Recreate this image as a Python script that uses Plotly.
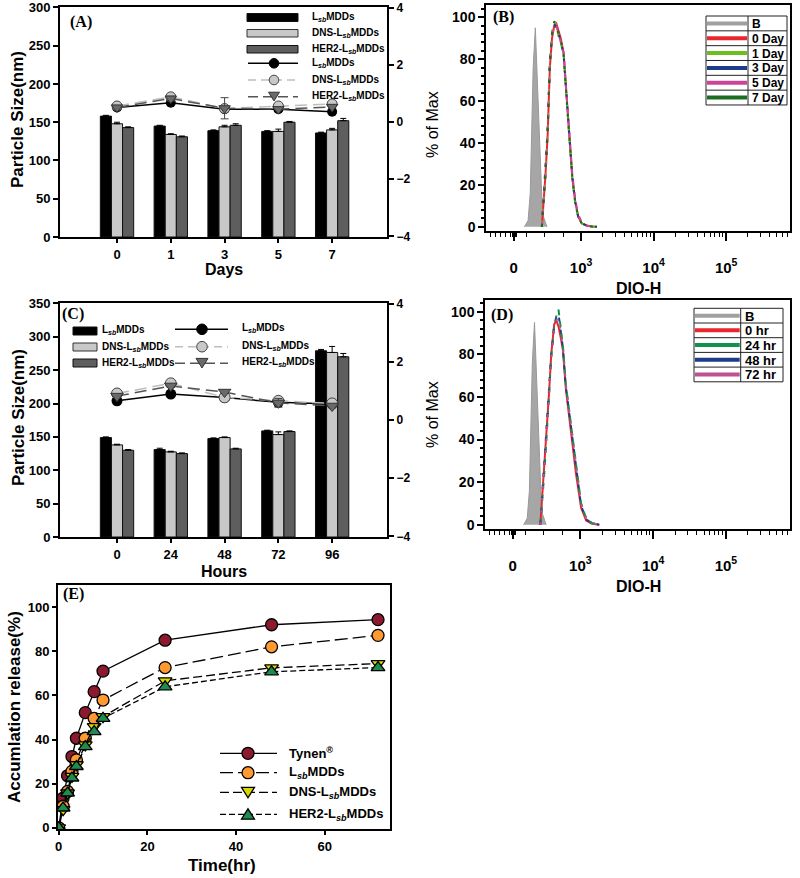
import math
import plotly.graph_objects as go

W, H = 800, 878
FONT = "Liberation Sans, Arial, sans-serif"
SERIF = "Liberation Serif, Times New Roman, serif"
LSB = "L<sub><i>sb</i></sub>MDDs"

# ---------------- data ----------------
# Panel A (stability over days)
days = ["0", "1", "3", "5", "7"]
a_size_lsb = [158, 145, 139, 138, 136]
a_size_dns = [148, 134, 144, 138, 140]
a_size_her2 = [143, 131, 146, 150, 152]
a_err_lsb = [1, 1, 1, 1, 1]
a_err_dns = [2, 1, 2, 3, 2]
a_err_her2 = [1, 1, 2, 1, 3]
a_right_lsb = [0.51, 0.67, 0.45, 0.45, 0.36]
a_right_dns = [0.56, 0.88, 0.47, 0.56, 0.63]
a_right_her2 = [0.51, 0.82, 0.48, 0.45, 0.53]
a_right_err_her2 = [0.0, 0.08, 0.37, 0.0, 0.0]

# Panel B (flow cytometry histograms, days) - x in display (decade) units
b_blank_x = [2.22, 2.24, 2.27, 2.30, 2.32, 2.34, 2.37, 2.39, 2.41, 2.43, 2.46, 2.48, 2.53]
b_blank_y = [0, 1, 3, 16, 45, 76, 95, 76, 53, 32, 13, 5, 0]
b_x = [2.46, 2.48, 2.51, 2.54, 2.57, 2.60, 2.63, 2.66, 2.69, 2.72, 2.76, 2.80, 2.84, 2.88, 2.92, 2.96, 3.01, 3.08, 3.15, 3.22]
b_day0 = [0, 9, 25, 44, 76, 90, 96, 97, 93, 90, 83, 62, 42, 23, 12, 5, 1.6, 0.5, 0.2, 0]
b_day1 = [0, 8, 24, 46, 79, 93, 98, 96, 91, 88, 82, 61, 41, 22, 11, 5, 1.6, 0.5, 0.2, 0]
b_day3 = [0, 12, 27, 47, 78, 92, 97, 95, 92, 89, 82, 62, 43, 24, 12, 5, 1.8, 0.6, 0.2, 0]
b_day5 = [0, 9, 25, 45, 77, 91, 96, 96, 92, 89, 83, 63, 44, 25, 13, 6, 2.0, 0.6, 0.2, 0]
b_day7 = [0, 10, 26, 46, 78, 92, 98, 97, 92, 89, 82, 62, 43, 24, 12, 5, 1.6, 0.5, 0.2, 0]
b_labels = ["B", "0 Day", "1 Day", "3 Day", "5 Day", "7 Day"]

# Panel C (stability over hours)
hours = ["0", "24", "48", "72", "96"]
c_size_lsb = [149, 131, 147.5, 159, 279]
c_size_dns = [138, 127.5, 149, 153.5, 276.5]
c_size_her2 = [130, 125, 132, 158, 270]
c_err_lsb = [1, 2, 1, 1, 2]
c_err_dns = [1, 1, 1, 4, 9]
c_err_her2 = [1, 1, 1, 1, 5]
c_right_lsb = [0.66, 0.89, 0.77, 0.61, 0.55]
c_right_dns = [0.91, 1.26, 0.78, 0.66, 0.57]
c_right_her2 = [0.82, 1.17, 0.96, 0.59, 0.48]
c_right_err_her2 = [0.05, 0.05, 0.05, 0.15, 0.05]

# Panel D (flow cytometry histograms, hours)
d_blank_x = [2.22, 2.24, 2.27, 2.30, 2.32, 2.34, 2.37, 2.39, 2.41, 2.43, 2.46, 2.48, 2.53]
d_blank_y = [0, 1, 3, 16, 45, 76, 95, 76, 53, 32, 13, 5, 0]
d_x = [2.45, 2.47, 2.50, 2.53, 2.57, 2.60, 2.64, 2.67, 2.70, 2.73, 2.76, 2.80, 2.84, 2.89, 2.94, 3.01, 3.08, 3.16, 3.26]
d_hr0 = [0, 10, 25, 40, 62, 80, 94, 96, 93, 88, 82, 64, 52, 38, 24, 8, 2, 0.5, 0]
d_hr24 = [0, 8, 22, 38, 60, 79, 93, 98, 101, 92, 84, 66, 55, 42, 28, 10, 3, 0.8, 0]
d_hr48 = [0, 11, 24, 40, 62, 80, 93, 97, 99, 90, 83, 65, 54, 40, 26, 9, 2.5, 0.6, 0]
d_hr72 = [0, 9, 23, 39, 61, 79, 92, 96, 97, 90, 84, 66, 56, 42, 28, 10, 3, 0.8, 0]
d_labels = ["B", "0 hr", "24 hr", "48 hr", "72 hr"]

# Panel E (release)
e_time = [0, 1, 2, 3, 4, 6, 8, 10, 24, 48, 72]
e_tynen = [0, 13.5, 23.6, 32.3, 40.6, 52.2, 61.7, 71.0, 85.0, 92.0, 94.3]
e_lsb = [0, 9.8, 16.5, 25.6, 30.8, 40.6, 49.6, 57.9, 72.6, 82.0, 87.2]
e_dns = [0, 8.3, 15.8, 23.3, 28.6, 37.6, 45.9, 50.4, 66.6, 72.5, 74.4]
e_her2 = [0, 9.0, 15.8, 22.6, 27.8, 36.8, 43.6, 49.6, 63.9, 70.7, 72.6]

flow_tickvals = [2.07, 3, 4, 5]
flow_ticktext = ["0", "10<sup>3</sup>", "10<sup>4</sup>", "10<sup>5</sup>"]

# ---------------- styles ----------------
C_BLACK = "#000000"
C_LIGHT = "#C8C8C8"
C_DARK = "#5E5E5E"
C_GRAYH = "#A6A6A6"
B_COLORS = ["#E8282E", "#6CBF1E", "#1E3C8C", "#CC4499", "#1B6E20"]
D_COLORS = ["#E8282E", "#10924A", "#1E3C8C", "#C0508F"]
E_COLORS = ["#8B1A2E", "#FF9A33", "#D8D800", "#1E8C50"]


def dx(x0, x1):
    return [x0 / W, x1 / W]


def dy(top, bottom):
    return [1 - bottom / H, 1 - top / H]


fig = go.Figure()


def add_bars(xname, yname, cats, vals, errs, color, group):
    fig.add_trace(go.Bar(
        x=cats, y=vals, xaxis=xname, yaxis=yname, offsetgroup=group,
        marker=dict(color=color, line=dict(color="#111111", width=1)),
        error_y=dict(type="data", array=errs, arrayminus=[0] * len(errs),
                     symmetric=False, color="black", thickness=1, width=3),
        showlegend=False))


# Panel A
add_bars("x", "y", days, a_size_lsb, a_err_lsb, C_BLACK, "1")
add_bars("x", "y", days, a_size_dns, a_err_dns, C_LIGHT, "2")
add_bars("x", "y", days, a_size_her2, a_err_her2, C_DARK, "3")
fig.add_trace(go.Scatter(x=days, y=a_right_lsb, xaxis="x", yaxis="y2", mode="lines+markers",
                         line=dict(color="black", width=1.5),
                         marker=dict(symbol="circle", size=10, color="black"), showlegend=False))
fig.add_trace(go.Scatter(x=days, y=a_right_dns, xaxis="x", yaxis="y2", mode="lines+markers",
                         line=dict(color="#BEBEBE", width=1.5, dash="12px,6px"),
                         marker=dict(symbol="circle", size=10, color=C_LIGHT, line=dict(color="#444", width=1)),
                         showlegend=False))
fig.add_trace(go.Scatter(x=days, y=a_right_her2, xaxis="x", yaxis="y2", mode="lines+markers",
                         line=dict(color="#555555", width=1.5, dash="12px,6px"),
                         error_y=dict(type="data", array=a_right_err_her2, color="#444", thickness=1, width=4),
                         marker=dict(symbol="triangle-down", size=10, color="#6A6A6A", line=dict(color="#333", width=1)),
                         showlegend=False))

# Panel B
fig.add_trace(go.Scatter(x=b_blank_x, y=b_blank_y, xaxis="x2", yaxis="y3", mode="lines",
                         fill="tozeroy", fillcolor=C_GRAYH, line=dict(color="#999999", width=1),
                         showlegend=False))
b_dashes = ["solid", "6px,6px", "4px,8px", "5px,7px", "3px,9px"]
for vals, col, dsh in zip([b_day0, b_day1, b_day3, b_day5, b_day7], B_COLORS, b_dashes):
    fig.add_trace(go.Scatter(x=b_x, y=vals, xaxis="x2", yaxis="y3", mode="lines",
                             line=dict(color=col, width=2, dash=dsh), showlegend=False))

# Panel C
add_bars("x3", "y4", hours, c_size_lsb, c_err_lsb, C_BLACK, "1")
add_bars("x3", "y4", hours, c_size_dns, c_err_dns, C_LIGHT, "2")
add_bars("x3", "y4", hours, c_size_her2, c_err_her2, C_DARK, "3")
fig.add_trace(go.Scatter(x=hours, y=c_right_lsb, xaxis="x3", yaxis="y5", mode="lines+markers",
                         line=dict(color="black", width=1.5),
                         marker=dict(symbol="circle", size=11, color="black"), showlegend=False))
fig.add_trace(go.Scatter(x=hours, y=c_right_dns, xaxis="x3", yaxis="y5", mode="lines+markers",
                         line=dict(color="#BEBEBE", width=1.5, dash="12px,6px"),
                         marker=dict(symbol="circle", size=11, color=C_LIGHT, line=dict(color="#444", width=1)),
                         showlegend=False))
fig.add_trace(go.Scatter(x=hours, y=c_right_her2, xaxis="x3", yaxis="y5", mode="lines+markers",
                         line=dict(color="#555555", width=1.5, dash="12px,6px"),
                         error_y=dict(type="data", array=c_right_err_her2, color="#444", thickness=1, width=4),
                         marker=dict(symbol="triangle-down", size=11, color="#6A6A6A", line=dict(color="#333", width=1)),
                         showlegend=False))

# Panel D
fig.add_trace(go.Scatter(x=d_blank_x, y=d_blank_y, xaxis="x4", yaxis="y6", mode="lines",
                         fill="tozeroy", fillcolor=C_GRAYH, line=dict(color="#999999", width=1),
                         showlegend=False))
d_dashes = ["solid", "6px,6px", "4px,8px", "3px,9px"]
for vals, col, dsh in zip([d_hr0, d_hr24, d_hr48, d_hr72], D_COLORS, d_dashes):
    fig.add_trace(go.Scatter(x=d_x, y=vals, xaxis="x4", yaxis="y6", mode="lines",
                             line=dict(color=col, width=2, dash=dsh), showlegend=False))

# Panel E
e_series = [e_tynen, e_lsb, e_dns, e_her2]
e_dash = ["solid", "13px,5px", "9px,4px", "6px,3px"]
e_sym = ["circle", "circle", "triangle-down", "triangle-up"]
for vals, col, dsh, sym in zip(e_series, E_COLORS, e_dash, e_sym):
    fig.add_trace(go.Scatter(x=e_time, y=vals, xaxis="x5", yaxis="y7", mode="lines+markers",
                             line=dict(color="black", width=1.3, dash=dsh),
                             marker=dict(symbol=sym, size=12, color=col, line=dict(color="black", width=1.3)),
                             showlegend=False))

# ---------------- axes ----------------
def tfont(size):
    return dict(family=FONT, size=size, color="black", weight="bold")


common = dict(showgrid=False, zeroline=False, showline=True, linecolor="black",
              tickcolor="black", ticks="outside", automargin=False)

bar_x = dict(common, type="category", range=[-1.06, 5.02], ticklen=4, tickwidth=1.5,
             linewidth=2, mirror=True, tickfont=tfont(13))
left_y = dict(common, ticklen=5, tickwidth=1.5, linewidth=2, tickfont=tfont(13))
right_y = dict(common, side="right", range=[-4.02, 4.02], dtick=2, ticklen=5,
               tickwidth=1.5, linewidth=2, tickfont=tfont(12))

flow_minor = [1.75, 1.82, 1.89, 1.96, 2.03, 2.05, 2.09, 2.11, 2.25, 2.49, 2.76]
for dec in (3, 4, 5):
    for k in range(2, 10):
        v = dec + math.log10(k)
        if v < 5.87:
            flow_minor.append(v)
flow_x = dict(common, range=[1.69, 5.88], tickmode="array", tickvals=flow_tickvals,
              ticktext=flow_ticktext, ticklen=8, tickwidth=1.5, linewidth=1.5, mirror=True,
              tickfont=tfont(15), ticklabelstandoff=14,
              minor=dict(tickmode="array", tickvals=flow_minor, ticklen=4, ticks="outside",
                         tickcolor="black", tickwidth=1.2))
flow_y = dict(common, dtick=20, ticklen=6, tickwidth=1.5, linewidth=1.5, mirror=True,
              tickfont=tfont(14), minor=dict(dtick=4, ticklen=3, ticks="outside", tickcolor="black"))

fig.update_layout(
    template="none",
    xaxis=dict(bar_x, domain=dx(60, 387), anchor="y"),
    yaxis=dict(left_y, domain=dy(7, 237), anchor="x", range=[0, 300.6], dtick=50),
    yaxis2=dict(right_y, overlaying="y", anchor="x"),
    xaxis2=dict(flow_x, domain=dx(486, 790), anchor="y3"),
    yaxis3=dict(flow_y, domain=dy(5, 231), anchor="x2", range=[-2, 105.9]),
    xaxis3=dict(bar_x, domain=dx(60, 387), anchor="y4"),
    yaxis4=dict(left_y, domain=dy(303, 537), anchor="x3", range=[0, 350.6], dtick=50),
    yaxis5=dict(right_y, overlaying="y4", anchor="x3"),
    xaxis4=dict(flow_x, domain=dx(485, 790), anchor="y6"),
    yaxis6=dict(flow_y, domain=dy(300, 529), anchor="x4", range=[-2, 105.5]),
    xaxis5=dict(common, domain=dx(58, 390), anchor="y7", range=[-0.15, 74.7], dtick=20,
                ticklen=4, tickwidth=1.5, linewidth=2, mirror=True, tickfont=tfont(13)),
    yaxis7=dict(common, domain=dy(585, 829), anchor="x5", range=[-0.5, 110], tickmode="array",
                tickvals=[0, 20, 40, 60, 80, 100], ticklen=4, tickwidth=1.5, linewidth=2,
                mirror=True, tickfont=tfont(13)),
    barmode="group", bargap=0.38, bargroupgap=0,
    width=W, height=H, margin=dict(l=0, r=0, t=0, b=0, pad=0),
    paper_bgcolor="white", plot_bgcolor="white", showlegend=False,
    font=dict(family=FONT, color="black"),
)

# ---------------- annotations / manual legends ----------------
shapes = []
annotations = []


def px(x):
    return x / W


def py(y):
    return 1 - y / H


def text(x, y, t, size, anchor="left", bold=True, family=FONT, angle=0):
    annotations.append(dict(xref="paper", yref="paper", x=px(x), y=py(y), text=t, showarrow=False,
                            xanchor=anchor, yanchor="middle", textangle=angle,
                            font=dict(family=family, size=size, color="black",
                                      weight="bold" if bold else "normal")))


def rect(x0, y0, x1, y1, fill, lc="#111111", lw=1):
    shapes.append(dict(type="rect", xref="paper", yref="paper", x0=px(x0), x1=px(x1),
                       y0=py(y1), y1=py(y0), fillcolor=fill, line=dict(color=lc, width=lw), layer="above"))


def line(x0, y0, x1, y1, color, width, dash="solid"):
    shapes.append(dict(type="line", xref="paper", yref="paper", x0=px(x0), x1=px(x1),
                       y0=py(y0), y1=py(y1), line=dict(color=color, width=width, dash=dash), layer="above"))


def circle(xc, yc, r, fill, lc="black", lw=1):
    shapes.append(dict(type="circle", xref="paper", yref="paper", x0=px(xc - r), x1=px(xc + r),
                       y0=py(yc + r), y1=py(yc - r), fillcolor=fill, line=dict(color=lc, width=lw), layer="above"))


def tri(xc, yc, r, fill, down=True, lc="black", lw=1):
    if down:
        pts = [(xc - r, yc - 0.6 * r), (xc + r, yc - 0.6 * r), (xc, yc + r)]
    else:
        pts = [(xc - r, yc + 0.6 * r), (xc + r, yc + 0.6 * r), (xc, yc - r)]
    path = "M " + " L ".join(f"{px(a):.5f},{py(b):.5f}" for a, b in pts) + " Z"
    shapes.append(dict(type="path", xref="paper", yref="paper", path=path, fillcolor=fill,
                       line=dict(color=lc, width=lw), layer="above"))


# Axis titles
text(18, 120, "Particle Size(nm)", 17, anchor="center", angle=-90)
text(224, 269, "Days", 16, anchor="center")
text(432, 125, "% of Max", 16, anchor="center", bold=False, angle=-90)
text(638, 288, "DIO-H", 16, anchor="center")
text(18, 418, "Particle Size(nm)", 17, anchor="center", angle=-90)
text(224, 571, "Hours", 16, anchor="center")
text(432, 415, "% of Max", 16, anchor="center", bold=False, angle=-90)
text(638, 586, "DIO-H", 16, anchor="center")
text(14, 707, "Accumlation release(%)", 17, anchor="center", angle=-90)
text(222, 865, "Time(hr)", 17, anchor="center")

# Panel labels
for lx, ly, lab in [(81, 22, "(A)"), (503, 17, "(B)"), (73, 314, "(C)"), (502, 315, "(D)"), (73, 594, "(E)")]:
    text(lx, ly, lab, 16, anchor="center", family=SERIF)

# Legend A
rect(247, 13.5, 298, 21.5, C_BLACK)
rect(247, 29.5, 298, 37, C_LIGHT, lc="#333")
rect(247, 45.5, 298, 53, C_DARK)
line(248, 63.3, 298, 63.3, "black", 1.5)
circle(274, 63.3, 4.8, "black")
line(248, 80, 298, 80, "#BEBEBE", 1.5, "8px,5px")
circle(274, 80, 4.8, C_LIGHT, lc="#444")
line(248, 96.7, 298, 96.7, "#555555", 1.5, "10px,5px")
tri(274, 95.5, 5.5, "#6A6A6A", lc="#333")
for yy, lab in zip([17, 33, 49, 63, 80, 96.5], [LSB, "DNS-" + LSB, "HER2-" + LSB] * 2):
    text(310, yy, lab, 10)

# Legend C
rect(73, 327, 97, 335, C_BLACK)
rect(73, 343, 97, 351, C_LIGHT, lc="#333")
rect(73, 359, 97, 367, C_DARK)
for yy, lab in zip([330, 346.5, 362.5], [LSB, "DNS-" + LSB, "HER2-" + LSB]):
    text(100, yy, lab, 10)
line(175, 329.3, 228, 329.3, "black", 1.5)
circle(202, 329.3, 5.3, "black")
line(175, 346.7, 228, 346.7, "#BEBEBE", 1.5, "8px,5px")
circle(202, 346.7, 5.3, C_LIGHT, lc="#444")
line(175, 363.3, 228, 363.3, "#555555", 1.5, "10px,5px")
tri(202, 362, 6, "#6A6A6A", lc="#333")
for yy, lab in zip([328, 345.5, 362], [LSB, "DNS-" + LSB, "HER2-" + LSB]):
    text(240, yy, lab, 10)


def table_legend(x0, xmid, x1, ytop, rowh, labels, colors, size):
    n = len(labels)
    rect(x0, ytop, x1, ytop + rowh * n, "white", lc="#222", lw=1)
    for i in range(1, n):
        line(x0, ytop + rowh * i, x1, ytop + rowh * i, "#222", 1)
    line(xmid, ytop, xmid, ytop + rowh * n, "#222", 1)
    for i, (lab, col) in enumerate(zip(labels, colors)):
        yc = ytop + rowh * (i + 0.5)
        line(x0 + 1, yc, xmid - 1, yc, col, 4)
        text(xmid + 2, yc + 0.5, lab, size)


table_legend(706, 748, 787, 16, 14.83, b_labels, ["#A0A0A0"] + B_COLORS, 12)
table_legend(694, 740.7, 783, 308.3, 14.7, d_labels, ["#A0A0A0"] + D_COLORS, 13)

# Legend E
e_rows = [753.3, 772.7, 792.3, 814.3]
e_names = ["Tynen<sup>®</sup>", LSB, "DNS-" + LSB, "HER2-" + LSB]
for yy, col, dsh, sym, lab in zip(e_rows, E_COLORS, e_dash, e_sym, e_names):
    line(220, yy, 277, yy, "black", 1.3, dsh)
    if sym == "circle":
        circle(248, yy, 6, col, lw=1.3)
    elif sym == "triangle-down":
        tri(248, yy - 1, 6.5, col, down=True, lw=1.3)
    else:
        tri(248, yy + 1, 6.5, col, down=False, lw=1.3)
    text(287, yy, lab, 13)

fig.update_layout(shapes=shapes, annotations=annotations)
fig.write_html(
    "out.html",
    config={"displayModeBar": False},
    post_script="document.body.style.margin='0';document.body.style.padding='0';"
                "document.documentElement.style.margin='0';",
)
